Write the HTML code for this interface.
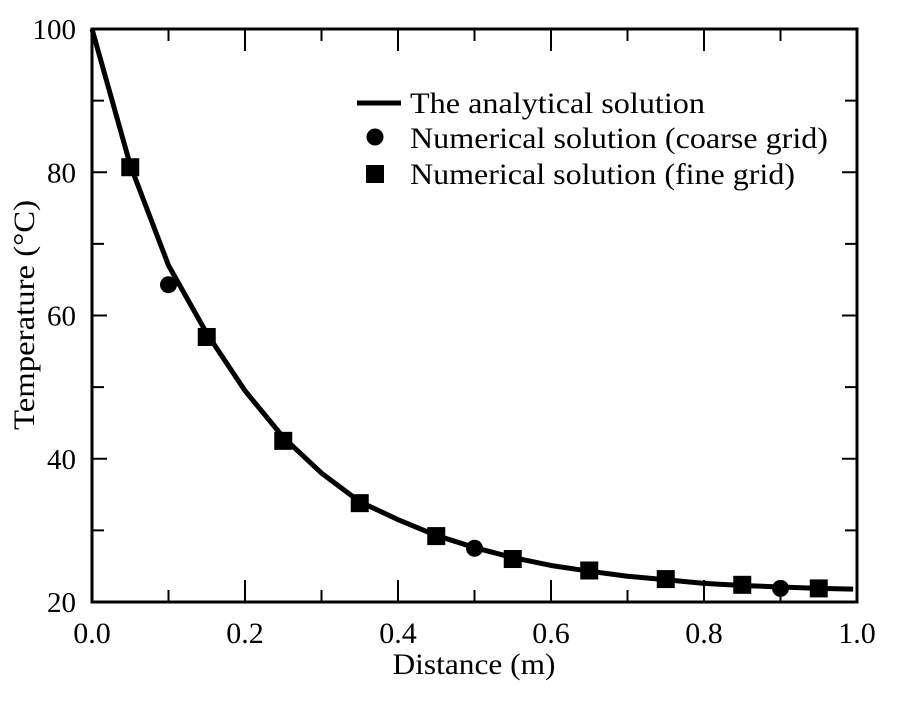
<!DOCTYPE html>
<html><head><meta charset="utf-8"><style>
body{margin:0;background:#fff;}
svg{display:block;font-family:"Liberation Serif",serif;}
</style></head><body>
<svg id="chart" width="897" height="708" xmlns="http://www.w3.org/2000/svg">
<g id="axes"></g><g id="marks"></g>
<g>
<line x1="357" y1="103" x2="401" y2="103" stroke="#000" stroke-width="5"/>
<text x="410" y="113" font-size="30" textLength="295" lengthAdjust="spacingAndGlyphs">The analytical solution</text>
<circle cx="375" cy="137" r="8.5" fill="#000"/>
<text x="410" y="148" font-size="30" textLength="418" lengthAdjust="spacingAndGlyphs">Numerical solution (coarse grid)</text>
<rect x="366" y="165" width="18" height="18" fill="#000"/>
<text x="410" y="184" font-size="30" textLength="385" lengthAdjust="spacingAndGlyphs">Numerical solution (fine grid)</text>
</g>
<text x="474" y="674" font-size="30" text-anchor="middle" textLength="163" lengthAdjust="spacingAndGlyphs">Distance (m)</text>
<text transform="translate(34,315) rotate(-90)" font-size="30" text-anchor="middle" textLength="230" lengthAdjust="spacingAndGlyphs">Temperature (°C)</text>
</svg>
<script>
const xTicks=[0,0.2,0.4,0.6,0.8,1.0];
const xTickLabels=["0.0","0.2","0.4","0.6","0.8","1.0"];
const yTicks=[20,40,60,80,100];
const yTickLabels=["20","40","60","80","100"];
const curveX=[0,0.05,0.1,0.15,0.2,0.25,0.3,0.35,0.4,0.45,0.5,0.55,0.6,0.65,0.7,0.75,0.8,0.85,0.9,0.95,0.995];
const curveY=[100,81,67,57.5,49.5,43,38,34,31.5,29.3,27.6,26.2,25.1,24.3,23.6,23.1,22.6,22.3,22.1,21.9,21.8];
const coarseX=[0.1,0.5,0.9];
const coarseY=[64.3,27.5,21.9];
const fineX=[0.05,0.15,0.25,0.35,0.45,0.55,0.65,0.75,0.85,0.95];
const fineY=[80.7,57,42.5,33.8,29.2,26,24.4,23.2,22.4,21.9];
const L=92,R=857,T=29,B=602;
const sx=v=>L+(v-0)/(1-0)*(R-L);
const sy=v=>B-(v-20)/(100-20)*(B-T);
const NS="http://www.w3.org/2000/svg";
function mk(tag,attrs,parent){const e=document.createElementNS(NS,tag);for(const k in attrs)e.setAttribute(k,attrs[k]);parent.appendChild(e);return e;}
const axes=document.getElementById('axes'),marks=document.getElementById('marks');
const frame=mk('rect',{x:L,y:T,width:R-L,height:B-T,fill:'none',stroke:'#000','stroke-width':3},axes);


for(let i=0;i<=10;i++){const v=i/10,x=sx(v),len=i%2?12:22;
 const t1=mk('line',{x1:x,y1:B,x2:x,y2:B-len,stroke:'#000','stroke-width':2},axes);
 
 
 const t2=mk('line',{x1:x,y1:T,x2:x,y2:T+len,stroke:'#000','stroke-width':2},axes);
 
 }
xTicks.forEach((v,i)=>{const t=mk('text',{x:sx(v),y:B+41,'font-size':30,'text-anchor':'middle'},axes);t.textContent=xTickLabels[i];
 
 });
for(let v=20;v<=100;v+=10){const y=sy(v),len=(v%20)?12:15;
 const t1=mk('line',{x1:L,y1:y,x2:L+len,y2:y,stroke:'#000','stroke-width':2},axes);
 
 
 const t2=mk('line',{x1:R,y1:y,x2:R-len,y2:y,stroke:'#000','stroke-width':2},axes);
 
 }
yTicks.forEach((v,i)=>{const t=mk('text',{x:L-16,y:sy(v)+10,'font-size':29,'text-anchor':'end'},axes);t.textContent=yTickLabels[i];
 
 });
const pts=curveX.map((v,i)=>sx(v)+','+sy(curveY[i])).join(' ');
const line=mk('polyline',{points:pts,fill:'none',stroke:'#000','stroke-width':5,'stroke-linejoin':'round'},marks);


coarseX.forEach((v,i)=>{const c=mk('circle',{cx:sx(v),cy:sy(coarseY[i]),r:8.5,fill:'#000'},marks);
 
 });
fineX.forEach((v,i)=>{const r=mk('rect',{x:sx(v)-9,y:sy(fineY[i])-9,width:18,height:18,fill:'#000'},marks);
 
 });
</script>
</body></html>
